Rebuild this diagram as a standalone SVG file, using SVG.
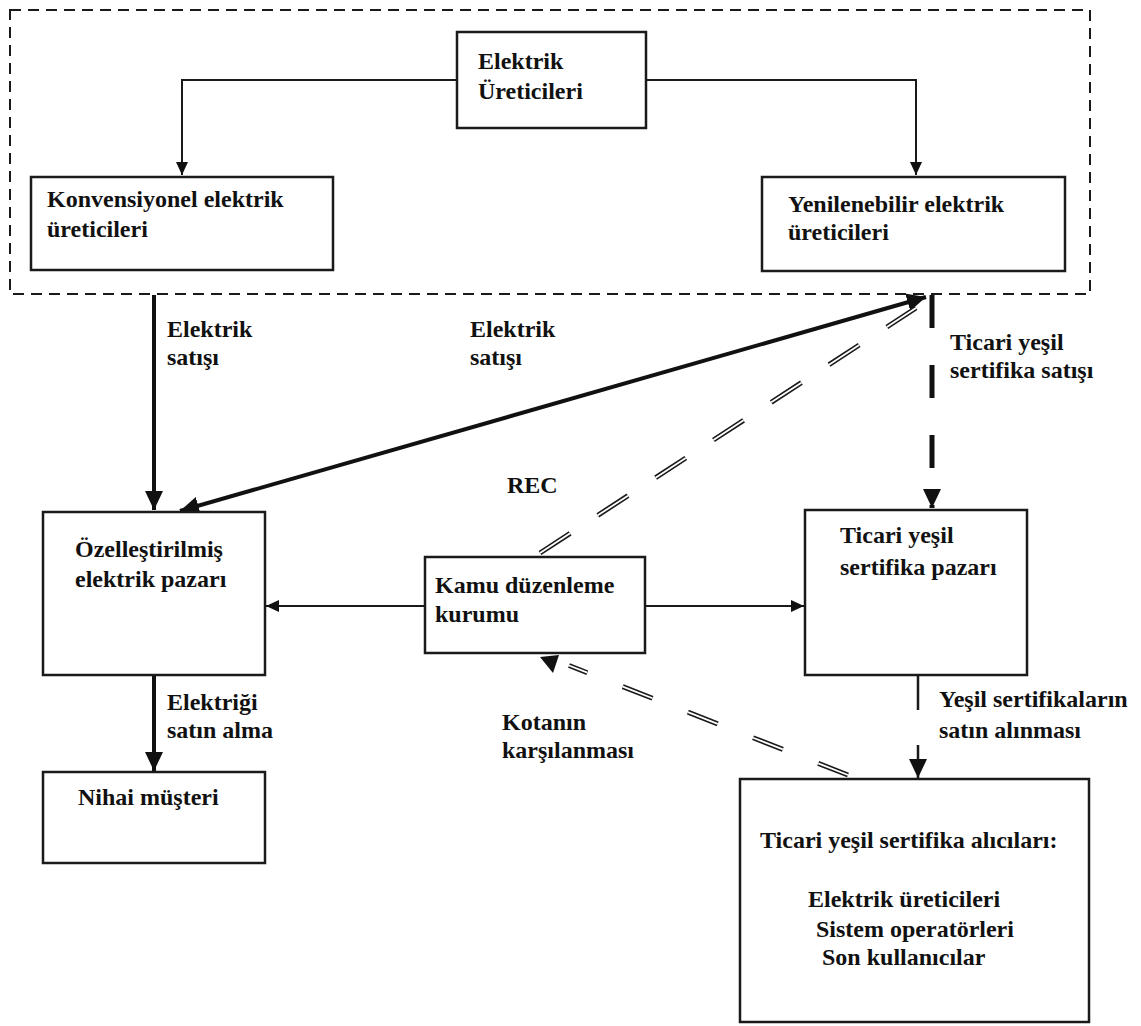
<svg xmlns="http://www.w3.org/2000/svg" width="1141" height="1026" viewBox="0 0 1141 1026">
<style>
  .box{fill:#fff;stroke:#1a1a1a;stroke-width:2.5}
  .t{font-family:"Liberation Serif","Times New Roman",serif;font-weight:bold;font-size:24px;fill:#111}
  .thin{fill:none;stroke:#1a1a1a;stroke-width:2}
  .thick{fill:none;stroke:#111;stroke-width:4}
  .dbl{fill:none;stroke:#1a1a1a;stroke-width:5}
  .dblw{fill:none;stroke:#fff;stroke-width:1.8}
</style>
<defs>
  <marker id="ah" markerUnits="userSpaceOnUse" markerWidth="14" markerHeight="12" refX="13" refY="6" orient="auto">
    <path d="M0,0 L13,6 L0,12 Z" fill="#111"/>
  </marker>
  <marker id="ahb" markerUnits="userSpaceOnUse" markerWidth="20" markerHeight="18" refX="19" refY="9" orient="auto-start-reverse">
    <path d="M0,0 L19,9 L0,18 Z" fill="#111"/>
  </marker>
</defs>
<rect width="1141" height="1026" fill="#fff"/>

<g id="region">
  <rect x="10" y="10" width="1080" height="284" fill="none" stroke="#1a1a1a" stroke-width="2" stroke-dasharray="11 7"/>
</g>

<g id="connectors">
  <path class="thin" d="M457,80 H182 V175" marker-end="url(#ah)"/>
  <path class="thin" d="M646,80 H916 V175" marker-end="url(#ah)"/>
  <path class="thick" d="M154,295 V510" marker-end="url(#ahb)"/>
  <path class="thick" d="M180,511 L926,297" marker-start="url(#ahb)" marker-end="url(#ahb)"/>
  <path fill="none" stroke="#111" stroke-width="5" stroke-dasharray="33 37" d="M932,295 V508" marker-end="url(#ahb)"/>
  <path class="dbl" stroke-dasharray="36 33" d="M540,553 L916,308"/>
  <path class="dblw" stroke-dasharray="36 33" d="M540,553 L916,308"/>
  <path class="thin" d="M425,606 H266" marker-end="url(#ah)"/>
  <path class="thin" d="M645,606 H804" marker-end="url(#ah)"/>
  <path class="thick" d="M154,675 V771" marker-end="url(#ahb)"/>
  <path fill="none" stroke="#1a1a1a" stroke-width="2.5" stroke-dasharray="35 35" d="M918,675 V778" marker-end="url(#ahb)"/>
  <path class="dbl" stroke-dasharray="32 38" d="M848,775 L569,665.5"/>
  <path class="dblw" stroke-dasharray="32 38" d="M848,775 L569,665.5"/>
  <polygon points="540,657 559,655 553,673" fill="#111"/>
</g>

<g id="n-elektrik-ureticileri">
  <rect class="box" x="457" y="32" width="189" height="96"/>
  <text class="t" x="478" y="69">Elektrik</text>
  <text class="t" x="478" y="99">Üreticileri</text>
</g>
<g id="n-konvensiyonel">
  <rect class="box" x="31" y="177" width="302" height="93"/>
  <text class="t" x="47" y="207">Konvensiyonel elektrik</text>
  <text class="t" x="47" y="237">üreticileri</text>
</g>
<g id="n-yenilenebilir">
  <rect class="box" x="762" y="177" width="303" height="94"/>
  <text class="t" x="788" y="212">Yenilenebilir elektrik</text>
  <text class="t" x="788" y="240">üreticileri</text>
</g>
<g id="n-ozellestirilmis">
  <rect class="box" x="43" y="512" width="222" height="163"/>
  <text class="t" x="75" y="557">Özelleştirilmiş</text>
  <text class="t" x="75" y="587">elektrik pazarı</text>
</g>
<g id="n-kamu">
  <rect class="box" x="425" y="557" width="220" height="96"/>
  <text class="t" x="435" y="593">Kamu düzenleme</text>
  <text class="t" x="435" y="622">kurumu</text>
</g>
<g id="n-ticari-pazar">
  <rect class="box" x="805" y="510" width="222" height="165"/>
  <text class="t" x="840" y="543">Ticari yeşil</text>
  <text class="t" x="840" y="575">sertifika pazarı</text>
</g>
<g id="n-nihai">
  <rect class="box" x="43" y="772" width="222" height="91"/>
  <text class="t" x="78" y="805">Nihai müşteri</text>
</g>
<g id="n-alicilar">
  <rect class="box" x="740" y="779" width="349" height="243"/>
  <text class="t" x="760" y="848">Ticari yeşil sertifika alıcıları:</text>
  <text class="t" x="808" y="907">Elektrik üreticileri</text>
  <text class="t" x="816" y="937">Sistem operatörleri</text>
  <text class="t" x="822" y="965">Son kullanıcılar</text>
</g>

<g id="labels">
  <text class="t" x="167" y="337">Elektrik</text>
  <text class="t" x="167" y="365">satışı</text>
  <text class="t" x="470" y="337">Elektrik</text>
  <text class="t" x="470" y="365">satışı</text>
  <text class="t" x="950" y="350">Ticari yeşil</text>
  <text class="t" x="950" y="378">sertifika satışı</text>
  <text class="t" x="507" y="493">REC</text>
  <text class="t" x="167" y="710">Elektriği</text>
  <text class="t" x="167" y="738">satın alma</text>
  <text class="t" x="502" y="730">Kotanın</text>
  <text class="t" x="502" y="758">karşılanması</text>
  <text class="t" x="939" y="707">Yeşil sertifikaların</text>
  <text class="t" x="939" y="738">satın alınması</text>
</g>
</svg>
